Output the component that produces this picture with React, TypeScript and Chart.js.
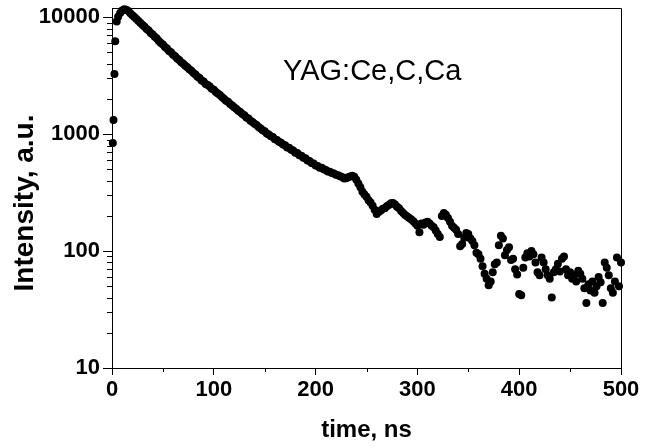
import React, { useEffect, useRef } from 'react';
import { Chart, registerables } from 'chart.js';

Chart.register(...registerables);

// ---- data ----
const riseTimes = [0.8, 1.5, 2.4, 3.2, 4.6];
const riseIntensity = [840, 1320, 3270, 6240, 9200];

const decayStart = 6; // ns
const decayStep = 2; // ns
const decayIntensity = [
  10100, 10900, 11400, 11700, 11600, 11300, 10800, 10400, 10050, 9650,
  9300, 8950, 8600, 8300, 7950, 7700, 7350, 7120, 6800, 6580,
  6280, 6020, 5860, 5580, 5400, 5150, 5010, 4780, 4630, 4430,
  4300, 4130, 4010, 3840, 3730, 3590, 3480, 3330, 3240, 3100,
  3020, 2880, 2820, 2680, 2640, 2560, 2450, 2400, 2300, 2230,
  2160, 2080, 2010, 1930, 1890, 1810, 1760, 1700, 1650, 1590,
  1550, 1490, 1450, 1390, 1360, 1300, 1270, 1225, 1200, 1150,
  1120, 1080, 1060, 1015, 995, 960, 945, 905, 890, 860,
  845, 815, 805, 770, 765, 735, 725, 695, 690, 660,
  655, 628, 622, 595, 590, 566, 562, 540, 535, 515,
  515, 500, 495, 480, 478, 465, 462, 450, 445, 436,
  430, 418, 420, 428, 434, 442, 432, 408, 378, 352,
  322, 305, 292, 272, 260, 244, 226, 208, 216, 222,
  230, 232, 242, 248, 256, 258, 250, 240, 232, 220,
  212, 204, 198, 192, 186, 180, 172, 165, 145, 172,
  168, 176, 178, 172, 165, 160, 150, 140, 132, 200,
  212, 205, 192, 178, 165, 158, 152, 140, 110, 115,
  130, 143, 140, 128, 122, 112, 97, 94, 86, 74,
  64, 58, 51, 55, 66, 77, 80, 112, 135, 128,
  92, 102, 108, 84, 86, 70, 63, 43, 42, 72,
  88, 96, 90, 100, 94, 80, 66, 62, 88, 80,
  70, 62, 58, 40, 66, 70, 78, 67, 86, 90,
  70, 62, 66, 58, 62, 55, 68, 64, 58, 48,
  36, 52, 46, 55, 44, 50, 60, 54, 36, 80,
  72, 62, 48, 44, 55, 88, 50, 80,
];

const xTicks = [0, 100, 200, 300, 400, 500];
const xMinorTicks = [50, 150, 250, 350, 450];
const yTicks = [10, 100, 1000, 10000];
const yMinorTicks = [
  20, 30, 40, 50, 60, 70, 80, 90,
  200, 300, 400, 500, 600, 700, 800, 900,
  2000, 3000, 4000, 5000, 6000, 7000, 8000, 9000,
];
const xMin = 0;
const xMax = 500;
const yMin = 10;
const yMax = 12000;

const xTitle = 'time, ns';
const yTitle = 'Intensity, a.u.';
const sampleLabel = 'YAG:Ce,C,Ca';

const FONT = 'Arial, "Liberation Sans", Helvetica, sans-serif';

export default function App() {
  const ref = useRef<HTMLCanvasElement | null>(null);

  useEffect(() => {
    if (!ref.current) return;
    const points = [
      ...riseTimes.map((t, i) => ({ x: t, y: riseIntensity[i] })),
      ...decayIntensity.map((v, i) => ({ x: decayStart + i * decayStep, y: v })),
    ];

    const decorPlugin = {
      id: 'decor',
      afterDraw(chart: any) {
        const { ctx, chartArea } = chart;
        const { left, right, top, bottom } = chartArea;
        const xs = chart.scales.x;
        const ys = chart.scales.y;
        ctx.save();
        ctx.strokeStyle = '#000';
        ctx.lineWidth = 1;
        // frame top and right
        ctx.beginPath();
        ctx.moveTo(Math.round(left) + 0.5, Math.round(top) + 0.5);
        ctx.lineTo(Math.round(right) + 0.5, Math.round(top) + 0.5);
        ctx.lineTo(Math.round(right) + 0.5, Math.round(bottom) + 0.5);
        ctx.stroke();
        // minor ticks
        ctx.beginPath();
        xMinorTicks.forEach((v) => {
          const px = Math.round(xs.getPixelForValue(v)) + 0.5;
          ctx.moveTo(px, Math.round(bottom));
          ctx.lineTo(px, Math.round(bottom) + 4);
        });
        yMinorTicks.forEach((v) => {
          const py = Math.round(ys.getPixelForValue(v)) + 0.5;
          ctx.moveTo(Math.round(left) - 5, py);
          ctx.lineTo(Math.round(left), py);
        });
        ctx.stroke();
        // titles
        ctx.fillStyle = '#000';
        ctx.textAlign = 'center';
        ctx.textBaseline = 'alphabetic';
        ctx.font = `bold 24px ${FONT}`;
        ctx.fillText(xTitle, (left + right) / 2, 437);
        ctx.save();
        ctx.translate(33, 203);
        ctx.rotate(-Math.PI / 2);
        ctx.font = `bold 28px ${FONT}`;
        ctx.fillText(yTitle, 0, 0);
        ctx.restore();
        // sample label
        ctx.font = `29px ${FONT}`;
        ctx.textAlign = 'left';
        ctx.fillText(sampleLabel, 283, 80);
        ctx.restore();
      },
    };

    const chart = new Chart(ref.current, {
      type: 'scatter',
      data: {
        datasets: [
          {
            data: points,
            pointRadius: 4,
            pointHoverRadius: 4,
            pointBackgroundColor: '#000',
            pointBorderWidth: 0,
            clip: false as any,
          },
        ],
      },
      options: {
        animation: false,
        responsive: false,
        events: [],
        layout: { padding: { top: 8, right: 32, left: 0, bottom: 0 } },
        plugins: {
          legend: { display: false },
          tooltip: { enabled: false },
        },
        scales: {
          x: {
            type: 'linear',
            min: xMin,
            max: xMax,
            afterBuildTicks: (scale: any) => {
              scale.ticks = xTicks.map((v) => ({ value: v }));
            },
            afterFit: (scale: any) => {
              scale.height = 80;
              scale.paddingLeft = 0;
              scale.paddingRight = 0;
            },
            ticks: {
              color: '#000',
              font: { family: FONT, size: 22, weight: 'bold' },
              padding: 2,
              maxRotation: 0,
              autoSkip: false,
              callback: (v: any) => String(v),
            },
            grid: {
              display: true,
              drawOnChartArea: false,
              drawTicks: true,
              tickLength: 7,
              color: '#000',
              tickColor: '#000',
            },
            border: { display: true, color: '#000', width: 1 },
          },
          y: {
            type: 'logarithmic',
            min: yMin,
            max: yMax,
            afterBuildTicks: (scale: any) => {
              scale.ticks = yTicks.map((v) => ({ value: v }));
            },
            afterFit: (scale: any) => {
              scale.width = 112;
              scale.paddingTop = 0;
              scale.paddingBottom = 0;
            },
            ticks: {
              color: '#000',
              font: { family: FONT, size: 22, weight: 'bold' },
              padding: 3,
              autoSkip: false,
              callback: (v: any) => String(v),
            },
            grid: {
              display: true,
              drawOnChartArea: false,
              drawTicks: true,
              tickLength: 9,
              color: '#000',
              tickColor: '#000',
            },
            border: { display: true, color: '#000', width: 1 },
          },
        },
      },
      plugins: [decorPlugin],
    });

    return () => chart.destroy();
  }, []);

  return (
    <div style={{ position: 'absolute', left: 0, top: 0, width: 653, height: 448, background: '#fff' }}>
      <canvas ref={ref} width={653} height={448} />
    </div>
  );
}
